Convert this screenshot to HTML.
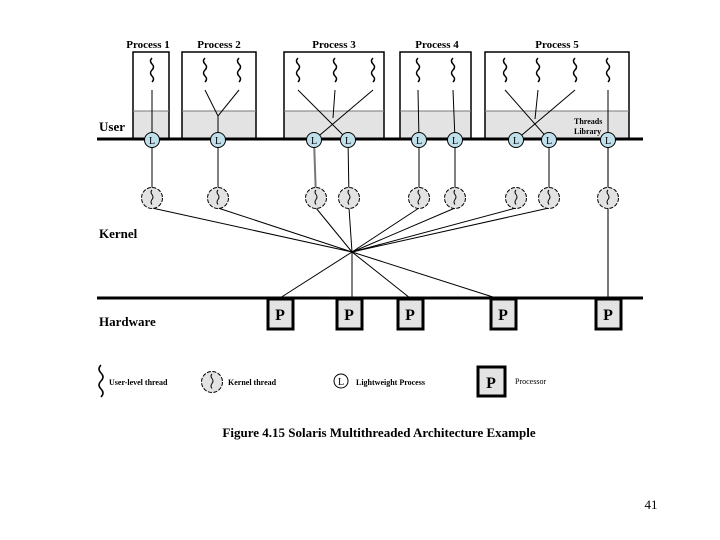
<!DOCTYPE html>
<html><head><style>
body{margin:0;background:#fff;}
svg{display:block;font-family:"Liberation Serif",serif;font-weight:bold;}
</style></head><body>
<svg width="720" height="540" viewBox="0 0 720 540">
<defs>
<path id="sq" d="M0,0 q-3,3 0,6 q3,3 0,6 q-3,3 0,6 q3,3 0,6" fill="none" stroke="#000" stroke-width="1.5"/>
<path id="ks" d="M0,-7 q-2,2 0,4.5 q2,2.5 0,5 q-2,2.5 0,5" fill="none" stroke="#000" stroke-width="1"/>
</defs>
<g font-size="11" text-anchor="middle">
<text x="148" y="48">Process 1</text><text x="219" y="48">Process 2</text><text x="334" y="48">Process 3</text><text x="437" y="48">Process 4</text><text x="557" y="48">Process 5</text>
</g>
<g stroke="#000" stroke-width="1.5">
<rect x="133" y="111" width="36" height="28" fill="#e3e3e3" stroke="none"/>
<rect x="182" y="111" width="74" height="28" fill="#e3e3e3" stroke="none"/>
<rect x="284" y="111" width="100" height="28" fill="#e3e3e3" stroke="none"/>
<rect x="400" y="111" width="71" height="28" fill="#e3e3e3" stroke="none"/>
<rect x="485" y="111" width="144" height="28" fill="#e3e3e3" stroke="none"/>
<g fill="none"><rect x="133" y="52" width="36" height="87"/><rect x="182" y="52" width="74" height="87"/><rect x="284" y="52" width="100" height="87"/><rect x="400" y="52" width="71" height="87"/><rect x="485" y="52" width="144" height="87"/></g>
<g stroke="#777" stroke-width="1"><line x1="133" y1="111" x2="169" y2="111"/><line x1="182" y1="111" x2="256" y2="111"/><line x1="284" y1="111" x2="384" y2="111"/><line x1="400" y1="111" x2="471" y2="111"/><line x1="485" y1="111" x2="629" y2="111"/></g>
</g>
<g>
<use href="#sq" x="152" y="58"/><use href="#sq" x="205" y="58"/><use href="#sq" x="239" y="58"/><use href="#sq" x="298" y="58"/><use href="#sq" x="335" y="58"/><use href="#sq" x="373" y="58"/><use href="#sq" x="418" y="58"/><use href="#sq" x="453" y="58"/><use href="#sq" x="505" y="58"/><use href="#sq" x="538" y="58"/><use href="#sq" x="575" y="58"/><use href="#sq" x="608" y="58"/>
</g>
<g stroke="#000" stroke-width="1" fill="none">
<line x1="152" y1="90" x2="152" y2="140"/>
<polyline points="205,90 218,116 239,90"/><line x1="218" y1="116" x2="218" y2="140"/>
<line x1="298" y1="90" x2="348" y2="140"/><line x1="373" y1="90" x2="314" y2="140"/><line x1="335" y1="90" x2="333" y2="118"/>
<line x1="418" y1="90" x2="419" y2="140"/><line x1="453" y1="90" x2="455" y2="140"/>
<line x1="505" y1="90" x2="549" y2="140"/><line x1="575" y1="90" x2="516" y2="140"/><line x1="538" y1="90" x2="535" y2="119"/>
<line x1="608" y1="90" x2="608" y2="140"/>
</g>
<text x="574" y="124" font-size="8">Threads</text><text x="574" y="134" font-size="8">Library</text>
<line x1="97" y1="139" x2="643" y2="139" stroke="#000" stroke-width="3"/>
<text x="99" y="131" font-size="13">User</text>
<g stroke="#000" stroke-width="1">
<line x1="152" y1="140" x2="152" y2="198"/><line x1="218" y1="140" x2="218" y2="198"/><line x1="314" y1="140" x2="316" y2="198" stroke="#777" stroke-width="2"/><line x1="348" y1="140" x2="349" y2="198"/><line x1="419" y1="140" x2="419" y2="198"/><line x1="455" y1="140" x2="455" y2="198"/><line x1="549" y1="140" x2="549" y2="198"/><line x1="608" y1="140" x2="608" y2="298" stroke="#777" stroke-width="2"/>
<line x1="152" y1="208" x2="352" y2="252"/><line x1="218" y1="208" x2="352" y2="252"/><line x1="316" y1="208" x2="352" y2="252"/><line x1="349" y1="208" x2="352" y2="252"/><line x1="419" y1="208" x2="352" y2="252"/><line x1="455" y1="208" x2="352" y2="252"/><line x1="516" y1="208" x2="352" y2="252"/><line x1="549" y1="208" x2="352" y2="252"/>
<line x1="352" y1="252" x2="280" y2="298"/><line x1="352" y1="252" x2="352" y2="298"/><line x1="352" y1="252" x2="410" y2="298"/><line x1="352" y1="252" x2="496" y2="298"/>
</g>
<g fill="#bfe0ea" stroke="#000" stroke-width="1">
<circle cx="152" cy="140" r="7.5"/><circle cx="218" cy="140" r="7.5"/><circle cx="314" cy="140" r="7.5"/><circle cx="348" cy="140" r="7.5"/><circle cx="419" cy="140" r="7.5"/><circle cx="455" cy="140" r="7.5"/><circle cx="516" cy="140" r="7.5"/><circle cx="549" cy="140" r="7.5"/><circle cx="608" cy="140" r="7.5"/>
</g>
<g font-size="10" text-anchor="middle" font-weight="normal">
<text x="152" y="144">L</text><text x="218" y="144">L</text><text x="314" y="144">L</text><text x="348" y="144">L</text><text x="419" y="144">L</text><text x="455" y="144">L</text><text x="516" y="144">L</text><text x="549" y="144">L</text><text x="608" y="144">L</text>
</g>
<g fill="#e3e3e3" stroke="#000" stroke-width="1" stroke-dasharray="4,1.5">
<circle cx="152" cy="198" r="10.5"/><circle cx="218" cy="198" r="10.5"/><circle cx="316" cy="198" r="10.5"/><circle cx="349" cy="198" r="10.5"/><circle cx="419" cy="198" r="10.5"/><circle cx="455" cy="198" r="10.5"/><circle cx="516" cy="198" r="10.5"/><circle cx="549" cy="198" r="10.5"/><circle cx="608" cy="198" r="10.5"/>
<circle cx="212" cy="382" r="10.5"/>
</g>
<g><use href="#ks" x="152" y="197"/><use href="#ks" x="218" y="197"/><use href="#ks" x="316" y="197"/><use href="#ks" x="349" y="197"/><use href="#ks" x="419" y="197"/><use href="#ks" x="455" y="197"/><use href="#ks" x="516" y="197"/><use href="#ks" x="549" y="197"/><use href="#ks" x="608" y="197"/><use href="#ks" x="212" y="381"/></g>
<text x="99" y="238" font-size="13">Kernel</text>
<line x1="97" y1="298" x2="643" y2="298" stroke="#000" stroke-width="3"/>
<text x="99" y="326" font-size="13">Hardware</text>
<g fill="#e3e3e3" stroke="#000" stroke-width="3">
<rect x="268" y="299" width="25" height="30"/><rect x="337" y="299" width="25" height="30"/><rect x="398" y="299" width="25" height="30"/><rect x="491" y="299" width="25" height="30"/><rect x="596" y="299" width="25" height="30"/>
<rect x="478" y="367" width="27" height="29"/>
</g>
<g font-size="16" text-anchor="middle">
<text x="280" y="320">P</text><text x="349" y="320">P</text><text x="410" y="320">P</text><text x="503" y="320">P</text><text x="608" y="320">P</text><text x="491" y="388">P</text>
</g>
<path d="M101,365 q-4,4 0,8 q4,4 0,8 q-4,4 0,8 q4,4 0,8" fill="none" stroke="#000" stroke-width="1.5"/>
<g font-size="8">
<text x="109" y="385">User-level thread</text>
<text x="228" y="385">Kernel thread</text>
<text x="356" y="385">Lightweight Process</text>
<text x="515" y="384" font-weight="normal">Processor</text>
</g>
<circle cx="341" cy="381" r="7" fill="#fff" stroke="#000" stroke-width="1"/>
<text x="341" y="385" font-size="10" text-anchor="middle" font-weight="normal">L</text>
<text x="379" y="437" font-size="13" text-anchor="middle">Figure 4.15   Solaris Multithreaded Architecture Example</text>
<text x="651" y="509" font-size="13" font-weight="normal" text-anchor="middle">41</text>
</svg>
</body></html>
